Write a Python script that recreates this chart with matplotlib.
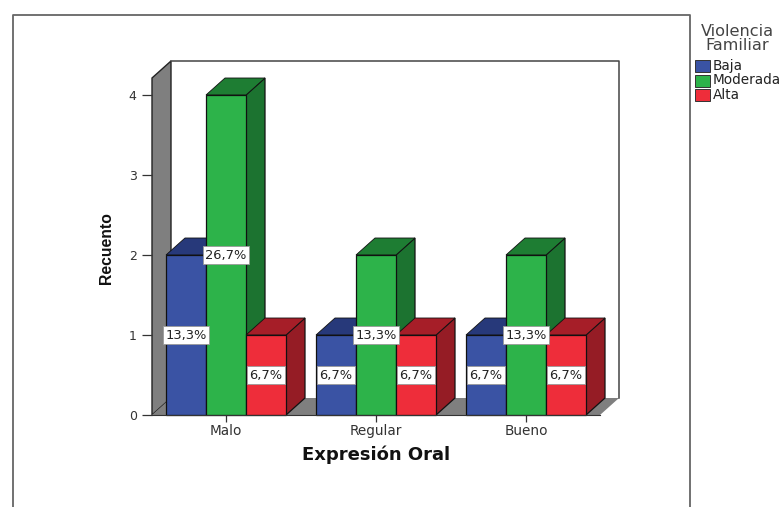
import matplotlib
matplotlib.use("Agg")
import matplotlib.pyplot as plt
from matplotlib.patches import Polygon, Rectangle
from matplotlib.lines import Line2D

categories = ["Malo", "Regular", "Bueno"]
series_names = ["Baja", "Moderada", "Alta"]
baja = [2, 1, 1]
moderada = [4, 2, 2]
alta = [1, 1, 1]
baja_labels = ["13,3%", "6,7%", "6,7%"]
moderada_labels = ["26,7%", "13,3%", "13,3%"]
alta_labels = ["6,7%", "6,7%", "6,7%"]
yticks = [0, 1, 2, 3, 4]

front = ["#3A53A4", "#2DB34A", "#EE2D3A"]
top = ["#27397A", "#1E7D33", "#A61E28"]
side = ["#2A3C80", "#1C7330", "#951C25"]

W, H = 784, 507
plt.rcParams["font.family"] = ["DejaVu Sans"]
fig = plt.figure(figsize=(W / 100, H / 100), dpi=100, facecolor="white")

# axes = front plane of the 3-D box, pixel extents 152..600 and 415..78
L, R, B, T = 152, 600, 415, 78
ax = fig.add_axes([L / W, 1 - B / H, (R - L) / W, (B - T) / H])
pxx, pxy = 150.0, 80.0
ax.set_xlim((L - 226) / pxx, (R - 226) / pxx)
ax.set_ylim(0, (B - T) / pxy)
ax.patch.set_visible(False)
for s in ax.spines.values():
    s.set_visible(False)

dx, dy = 19 / pxx, 17 / pxy
x0, x1 = ax.get_xlim()
y0, y1 = ax.get_ylim()
bw = 40 / pxx

# box walls
ax.add_patch(Polygon([(x0, y0), (x0 + dx, y0 + dy), (x0 + dx, y1 + dy), (x0, y1)],
                     fc="#7F7F7F", ec="#222222", lw=1.0, clip_on=False, zorder=1))
ax.add_patch(Polygon([(x0, y0), (x1, y0), (x1 + dx, y0 + dy), (x0 + dx, y0 + dy)],
                     fc="#7F7F7F", ec="none", clip_on=False, zorder=1))
ax.add_line(Line2D([x0 + dx, x1 + dx, x1 + dx], [y1 + dy, y1 + dy, y0 + dy],
                   color="#444444", lw=1.1, clip_on=False, zorder=1))

all_vals = [baja, moderada, alta]
all_labs = [baja_labels, moderada_labels, alta_labels]
for j in range(3):
    for i in range(3):
        v = all_vals[i][j]
        xl = j + (i - 1.5) * bw
        xr = xl + bw
        z = 2 + j * 3 + i
        ax.add_patch(Polygon([(xr, 0), (xr + dx, dy), (xr + dx, v + dy), (xr, v)],
                             fc=side[i], ec="#111111", lw=0.9, clip_on=False, zorder=z))
        ax.add_patch(Polygon([(xl, v), (xl + dx, v + dy), (xr + dx, v + dy), (xr, v)],
                             fc=top[i], ec="#111111", lw=0.6, clip_on=False, zorder=z))
        ax.bar(xl, v, width=bw, align="edge", color=front[i], edgecolor="#111111",
               linewidth=0.9, zorder=z + 0.5, clip_on=False)

for i in range(3):
    for j in range(3):
        xl = j + (i - 1) * bw
        ax.text(xl, all_vals[i][j] / 2, all_labs[i][j], ha="center", va="center",
                fontsize=9.4, color="#222222", zorder=40,
                bbox=dict(boxstyle="square,pad=0.18", fc="white", ec="#999999", lw=0.6))

ax.set_xticks(range(3), categories, fontsize=9.8, color="#333333")
ax.set_yticks(yticks, [str(t) for t in yticks], fontsize=9, color="#333333")
ax.tick_params(axis="y", length=7, width=0.9, color="#333333", pad=4)
ax.tick_params(axis="x", length=5, width=0.9, color="#333333", pad=1.5)
ax.spines["bottom"].set_visible(True)
ax.spines["bottom"].set_color("#333333")
ax.spines["bottom"].set_zorder(30)

fig.text(376 / W, 1 - 455 / H, "Expresión Oral", ha="center", va="center",
         fontsize=13, fontweight="bold", color="#111111")
fig.text(106 / W, 1 - 248 / H, "Recuento", rotation=90, ha="center", va="center",
         fontsize=11.3, fontweight="bold", color="#111111", family="Liberation Sans")

# outer frame (open at the bottom)
fig.add_artist(Line2D([13 / W, 13 / W, 690 / W, 690 / W],
                      [0, 1 - 15 / H, 1 - 15 / H, 0], color="#666666", lw=1.3))

# legend
fig.text(737 / W, 1 - 31 / H, "Violencia", ha="center", va="center", fontsize=11.6, color="#444444")
fig.text(737 / W, 1 - 45 / H, "Familiar", ha="center", va="center", fontsize=11.6, color="#444444")
for i, name in enumerate(series_names):
    yc = 66 + i * 14.5
    fig.add_artist(Rectangle((695 / W, 1 - (yc + 6) / H), 15 / W, 12 / H, fc=front[i],
                             ec="#333333", lw=0.7, transform=fig.transFigure))
    fig.text(713 / W, 1 - yc / H, name, ha="left", va="center", fontsize=9.8, color="#222222")

fig.savefig("out.png", dpi=100, facecolor="white")
